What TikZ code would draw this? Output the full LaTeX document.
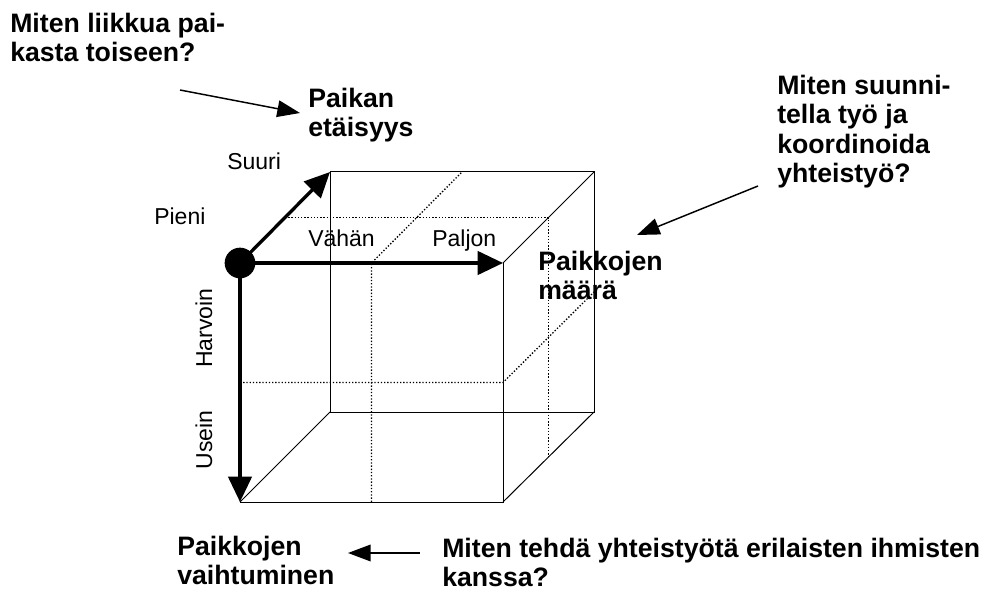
\documentclass[tikz,border=0pt]{standalone}
\usepackage{fontspec}
\setmainfont{Liberation Sans}
\usetikzlibrary{arrows.meta,calc}
\begin{document}
\begin{tikzpicture}[x=0.75pt,y=-0.75pt,
  edge/.style={line width=0.75pt},
  midline/.style={line width=1pt, dash pattern=on 1pt off 1.4pt},
  axis/.style={line width=2.5pt, -{Triangle[length=19pt,width=17.5pt]}},
  pointer/.style={line width=1.1pt, -{Triangle[length=17pt,width=12.5pt]}},
  question/.style={font=\bfseries\fontsize{20}{22}\selectfont, align=left, anchor=north west, inner sep=0pt},
  tick/.style={font=\fontsize{17.25}{20}\selectfont, inner sep=0pt},
]
\useasboundingbox (0,0) rectangle (983,592);

% cube corners: front face and back face
\coordinate (FTL) at (240,263);
\coordinate (FTR) at (503,263);
\coordinate (FBR) at (503,502);
\coordinate (FBL) at (240,502);
\coordinate (BTL) at (330,172);
\coordinate (BTR) at (594,172);
\coordinate (BBR) at (594,412);
\coordinate (BBL) at (330,412);

% wireframe edges
\draw[edge] (FTR) -- (FBR) -- (FBL);
\draw[edge] (BTL) -- (BTR) -- (BBR) -- (BBL) -- cycle;
\draw[edge] (FTR) -- (BTR);
\draw[edge] (FBR) -- (BBR);
\draw[edge] (FBL) -- (BBL);

% dotted half-way planes
\coordinate (DTL) at ($(FTL)!0.5!(BTL)$);
\coordinate (DTR) at ($(FTR)!0.5!(BTR)$);
\coordinate (DBR) at ($(FBR)!0.5!(BBR)$);
\draw[midline] (DTL) -- (DTR) -- (DBR);
\coordinate (WFT) at ($(FTL)!0.5!(FTR)$);
\coordinate (WFB) at ($(FBL)!0.5!(FBR)$);
\coordinate (WBT) at ($(BTL)!0.5!(BTR)$);
\draw[midline] (WFB) -- (WFT) -- (WBT);
\coordinate (HFL) at ($(FTL)!0.5!(FBL)$);
\coordinate (HFR) at ($(FTR)!0.5!(FBR)$);
\coordinate (HBR) at ($(BTR)!0.5!(BBR)$);
\draw[midline] (HFL) -- (HFR) -- (HBR);

% the three axes from the origin dot
\node[circle, fill, inner sep=0pt, minimum size=23] (origin) at (FTL) {};
\draw[axis] (origin.center) -- (BTL);
\draw[axis] (origin.center) -- (FTR);
\draw[axis] (origin.center) -- (FBL);

% axis end labels
\node[tick, anchor=base west] (suuri) at (227,170) {Suuri};
\node[tick, anchor=base west] (pieni) at (154,224) {Pieni};
\node[tick, anchor=base west] (vahan) at (308,247) {Vähän};
\node[tick, anchor=base west] (paljon) at (432,247) {Paljon};
\node[tick, anchor=base, rotate=90] (harvoin) at (212,328) {Harvoin};
\node[tick, anchor=base, rotate=90] (usein) at (212,440) {Usein};

% dimension names
\node[question] (etaisyys) at (308,88) {Paikan\\etäisyys};
\node[question] (maara) at (538,251) {Paikkojen\\määrä};
\node[question] (vaihtuminen) at (177,536) {Paikkojen\\vaihtuminen};

% questions
\node[question] (q1) at (10,13) {Miten liikkua pai-\\kasta toiseen?};
\node[question] (q2) at (777,75) {Miten suunni-\\tella työ ja\\koordinoida\\yhteistyö?};
\node[question] (q3) at (442,538) {Miten tehdä yhteistyötä erilaisten ihmisten\\kanssa?};

% pointers from questions to dimensions
\coordinate (p1s) at (180,90);
\coordinate (p1e) at (300,113);
\draw[pointer] (p1s) -- (p1e);
\coordinate (p2s) at (758,186);
\coordinate (p2e) at (637,235);
\draw[pointer] (p2s) -- (p2e);
\coordinate (p3s) at (420,553);
\coordinate (p3e) at (348,553);
\draw[pointer] (p3s) -- (p3e);
\end{tikzpicture}
\end{document}
